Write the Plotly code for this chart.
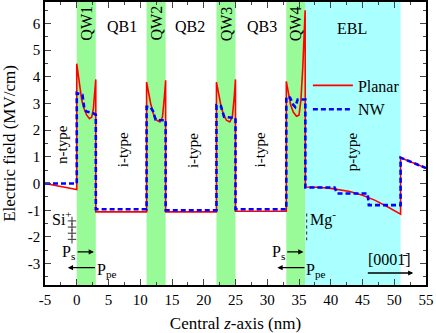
import plotly.graph_objects as go

# Layer layout (nm)
well_starts = [0, 11, 22, 33]
well_width = 3
ebl_range = [36, 51]

# Planar (red) electric field, MV/cm
planar_x = [-5, 0, 0, 0.26, 0.52, 0.79, 1.15, 1.57, 2.0, 2.36, 2.62, 2.9, 3.0, 3.0,
            11, 11, 11.27, 11.64, 12.06, 12.58, 13.1, 13.5, 13.8, 14, 14,
            22, 22, 22.27, 22.64, 23.06, 23.58, 24.1, 24.5, 24.8, 25, 25,
            33, 33, 33.3, 33.7, 34.1, 34.6, 35.0, 35.3, 35.6, 35.8, 35.97, 36,
            38, 40, 43, 45, 47, 49, 51, 51, 55]
planar_y = [0, -0.22, 4.49, 4.06, 3.62, 3.12, 2.81, 2.56, 2.43, 2.49, 2.81, 3.49, 3.9, -1.06,
            -1.06, 3.8, 3.43, 3.0, 2.62, 2.37, 2.31, 2.49, 3.24, 3.87, -1.06,
            -1.06, 3.8, 3.43, 3.0, 2.62, 2.37, 2.31, 2.49, 3.24, 3.9, -1.04,
            -1.04, 3.83, 3.37, 2.93, 2.68, 2.52, 2.56, 3.12, 4.37, 5.62, 6.49, -0.13,
            -0.14, -0.18, -0.3, -0.44, -0.63, -0.88, -1.15, 0.97, 0.58]

# Nanowire (blue dashed) electric field, MV/cm
nw_x = [-5, 0, 0, 0.9, 1.2, 1.5, 2.5, 3, 3,
        11, 11, 11.6, 12.0, 12.4, 13, 14, 14,
        22, 22, 22.7, 23.2, 25, 25,
        33, 33, 33.6, 34.1, 34.4, 34.8, 36, 36,
        40.6, 41.0, 45.8, 46.0, 51, 51, 55]
nw_y = [0, 0, 3.39, 3.32, 2.8, 2.7, 2.64, 2.58, -0.96,
        -0.96, 2.87, 2.87, 2.72, 2.4, 2.38, 2.37, -1.0,
        -1.0, 2.93, 2.9, 2.5, 2.45, -0.96,
        -0.96, 3.24, 3.22, 2.95, 2.87, 3.15, 3.15, -0.15,
        -0.15, -0.37, -0.37, -0.81, -0.81, 0.97, 0.58]

# Si+ donor charges drawn as a column of plus signs
si_plus_x = [-0.75, -0.75, -0.75, -0.75]
si_plus_y = [-1.4, -1.63, -1.86, -2.09]

x_ticks = [-5, 0, 5, 10, 15, 20, 25, 30, 35, 40, 45, 50, 55]
x_labels = ['-5', '0', '5', '10', '15', '20', '25', '30', '35', '40', '45', '50', '55']
y_ticks = [-3, -2, -1, 0, 1, 2, 3, 4, 5, 6]
y_labels = ['-3', '-2', '-1', '0', '1', '2', '3', '4', '5', '6']

font = 'Liberation Serif'

fig = go.Figure()

for s in well_starts:
    fig.add_vrect(x0=s, x1=s + well_width, fillcolor='#98FB98', opacity=1,
                  line_width=0, layer='below')
fig.add_vrect(x0=ebl_range[0], x1=ebl_range[1], fillcolor='#AAFFFF', opacity=1,
              line_width=0, layer='below')

fig.add_trace(go.Scatter(x=planar_x, y=planar_y, mode='lines', name='Planar',
                         line=dict(color='#FF0000', width=1.6)))
fig.add_trace(go.Scatter(x=nw_x, y=nw_y, mode='lines', name='NW',
                         line=dict(color='#0000FF', width=2.6, dash='5px,3px')))
fig.add_trace(go.Scatter(x=si_plus_x, y=si_plus_y, mode='markers', showlegend=False,
                         hoverinfo='skip',
                         marker=dict(symbol='cross-thin', size=6,
                                     line=dict(color='#333333', width=1))))

ann = []
def txt(x, y, t, size=16, angle=0):
    ann.append(dict(x=x, y=y, text=t, showarrow=False, textangle=angle,
                    font=dict(family=font, size=size, color='black')))

# region labels
for s, lab in zip(well_starts, ['QW1', 'QW2', 'QW3', 'QW4']):
    txt(s + 1.5, 6.0, lab, 16, -90)
txt(7.1, 5.87, 'QB1')
txt(17.9, 5.87, 'QB2')
txt(29.1, 5.87, 'QB3')
txt(43.3, 5.8, 'EBL')
txt(-2.3, 1.45, 'n-type', 15, -90)
txt(7.3, 1.25, 'i-type', 15, -90)
txt(18.3, 1.25, 'i-type', 15, -90)
txt(28.9, 1.25, 'i-type', 15, -90)
txt(43.3, 1.2, 'p-type', 15, -90)

# dopant / polarization notes
txt(-2.4, -1.3, 'Si<sup>+</sup>', 16)
txt(38.8, -1.3, 'Mg<sup>-</sup>', 16)
fig.add_shape(type='line', x0=36.2, x1=36.2, y0=-1.12, y1=-2.12,
              line=dict(color='#444444', width=1.2, dash='dot'))

for s in [0, 33]:
    txt(s - 1.3, -2.6, 'P<sub>s</sub>', 16)
    ann.append(dict(x=s + 2.7, y=-2.56, ax=s - 0.1, ay=-2.56, axref='x', ayref='y',
                    xref='x', yref='y', showarrow=True, arrowhead=2, arrowsize=0.8,
                    arrowwidth=1.3, arrowcolor='black', text=''))
    ann.append(dict(x=s - 1.4, y=-3.15, ax=s + 3.1, ay=-3.15, axref='x', ayref='y',
                    xref='x', yref='y', showarrow=True, arrowhead=2, arrowsize=0.8,
                    arrowwidth=1.3, arrowcolor='black', text=''))
    txt(s + 4.7, -3.25, 'P<sub>pe</sub>', 16)

txt(49.3, -2.85, '[000\u0031\u0304]', 16)
ann.append(dict(x=53.0, y=-3.35, ax=45.6, ay=-3.35, axref='x', ayref='y',
                xref='x', yref='y', showarrow=True, arrowhead=2, arrowsize=0.8,
                arrowwidth=1.3, arrowcolor='black', text=''))

fig.update_layout(
    annotations=ann,
    width=436, height=333,
    margin=dict(l=45, r=10, t=2, b=48),
    plot_bgcolor='white', paper_bgcolor='white',
    font=dict(family=font, size=15, color='black'),
    showlegend=True,
    legend=dict(x=0.69, y=0.765, bgcolor='rgba(0,0,0,0)', font=dict(size=16),
                tracegroupgap=0, itemwidth=40),
)
fig.update_xaxes(range=[-5, 55], tickvals=x_ticks, ticktext=x_labels,
                 ticks='inside', ticklen=6, tickwidth=1.2, showline=True,
                 linecolor='black', linewidth=1.5, mirror='allticks', showgrid=False,
                 zeroline=False, automargin=False,
                 minor=dict(ticks='inside', dtick=2.5, tick0=0, ticklen=3),
                 title=dict(text='Central <i>z</i>-axis (nm)', font=dict(size=17)))
fig.update_yaxes(range=[-3.8, 6.8], tickvals=y_ticks, ticktext=y_labels,
                 ticks='inside', ticklen=6, tickwidth=1.2, showline=True,
                 linecolor='black', linewidth=1.5, mirror='allticks', showgrid=False,
                 zeroline=False, automargin=False,
                 minor=dict(ticks='inside', dtick=0.5, tick0=0, ticklen=3),
                 title=dict(text='Electric field (MV/cm)', font=dict(size=17)))

fig.write_html('out.html', config={'displayModeBar': False},
               post_script="document.body.style.margin='0';")
